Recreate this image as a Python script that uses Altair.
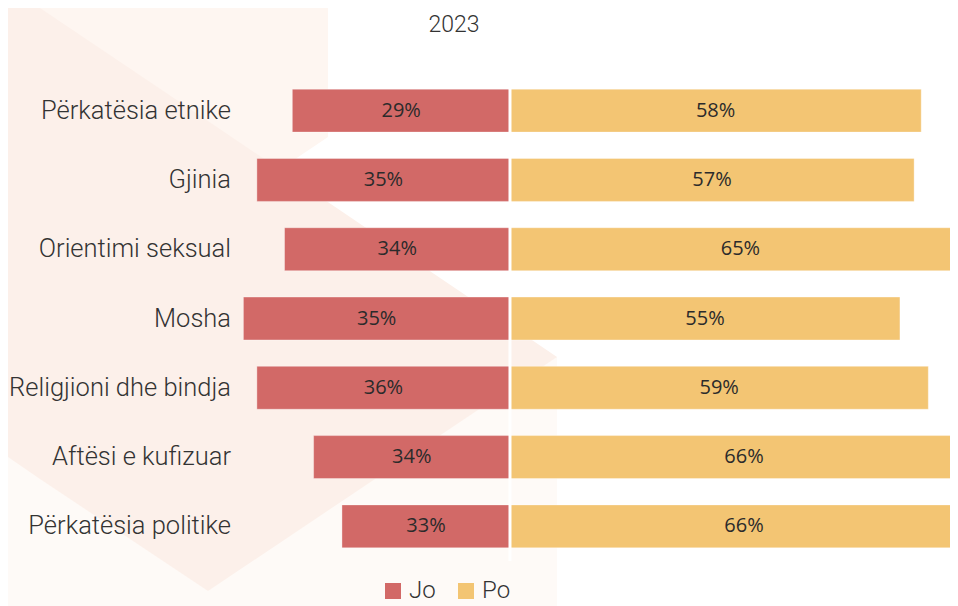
import altair as alt
import pandas as pd

categories = [
    "Përkatësia etnike",
    "Gjinia",
    "Orientimi seksual",
    "Mosha",
    "Religjioni dhe bindja",
    "Aftësi e kufizuar",
    "Përkatësia politike",
]
# bar lengths as drawn (percent units)
jo_values = [30.7, 35.7, 31.8, 37.6, 35.7, 27.7, 23.7]
po_values = [58, 57, 65, 55, 59, 66, 66]
# printed labels
jo_labels = ["29%", "35%", "34%", "35%", "36%", "34%", "33%"]
po_labels = ["58%", "57%", "65%", "55%", "59%", "66%", "66%"]

series = ["Jo", "Po"]
colors = ["#d26967", "#f3c573"]
title_text = "2023"

rows = []
for c, jv, pv, jl, pl in zip(categories, jo_values, po_values, jo_labels, po_labels):
    rows.append({"cat": c, "resp": "Jo", "start": -jv, "end": 0, "mid": -jv / 2, "label": jl})
    rows.append({"cat": c, "resp": "Po", "start": 0, "end": pv, "mid": pv / 2, "label": pl})
df = pd.DataFrame(rows)
cat_df = pd.DataFrame({"cat": categories})

# decorative background shapes (page-pixel space)
deco_poly = ["a_bottom", "a_bottom", "b_corner", "b_corner",
             "c_diamond", "c_diamond", "c_diamond", "c_diamond"]
deco_x = [8, 557, 8, 328, 8, 40, 208, 557]
deco_top = [357, 357, 8, 8, 8, 8, 121, 357]
deco_bottom = [606, 606, 352, 137, 457, 479, 591, 357]
deco_fill = ["#fefaf7", "#fefaf7", "#fef6f1", "#fef6f1",
             "#fcf0ea", "#fcf0ea", "#fcf0ea", "#fcf0ea"]

deco = pd.DataFrame(
    {"poly": deco_poly, "px": deco_x, "top": deco_top, "bottom": deco_bottom, "fill": deco_fill}
)
title_df = pd.DataFrame({"tx": [454], "ty": [25], "t": [title_text]})

PL, PR, PT, PB = 240, 950, 76, 561
X_DOMAIN = [-38.08, 62.06]
W = PR - PL
H = PB - PT
FONT = "Roboto"

x_scale = alt.Scale(domain=X_DOMAIN, nice=False, zero=False)
y_scale = alt.Scale(paddingInner=0.38, paddingOuter=0.19)

base = alt.Chart(df)

bars = base.mark_bar(clip=True, strokeWidth=1, strokeOpacity=0.35, stroke="white").encode(
    x=alt.X("start:Q", scale=x_scale, axis=None),
    x2="end:Q",
    y=alt.Y("cat:N", sort=categories, scale=y_scale, axis=None),
    color=alt.Color(
        "resp:N",
        scale=alt.Scale(domain=series, range=colors),
        legend=alt.Legend(
            title=None,
            orient="none",
            direction="horizontal",
            legendX=141,
            legendY=503,
            symbolType="square",
            symbolSize=256,
            symbolStrokeWidth=0,
            symbolOpacity=1,
            labelFont=FONT,
            labelFontWeight=300,
            labelFontSize=24,
            labelColor="#333333",
            labelOffset=4,
            columnPadding=18,
            padding=0,
        ),
    ),
)

labels = base.mark_text(font="Open Sans", fontSize=20, color="#2b2b2b").encode(
    x=alt.X("mid:Q", scale=x_scale, axis=None),
    y=alt.Y("cat:N", sort=categories, axis=None),
    text="label:N",
)

cat_labels = alt.Chart(cat_df).mark_text(
    font=FONT, fontWeight=300, fontSize=25.5, color="#333333", align="right", baseline="middle", dx=-9
).encode(
    x=alt.value(0),
    y=alt.Y("cat:N", sort=categories, axis=None),
    text="cat:N",
)

center = alt.Chart(pd.DataFrame({"x": [0]})).mark_rule(color="white", strokeWidth=3).encode(
    x=alt.X("x:Q", scale=x_scale, axis=None)
)

px_x = alt.Scale(domain=[PL, PR], nice=False, zero=False)
px_y = alt.Scale(domain=[PT, PB], nice=False, zero=False, reverse=True)

bg = alt.Chart(deco).mark_area(clip=False).encode(
    x=alt.X("px:Q", scale=px_x, axis=None),
    y=alt.Y("top:Q", scale=px_y, axis=None),
    y2="bottom:Q",
    detail="poly:N",
    fill=alt.Fill("fill:N", scale=None, legend=None),
)

title = alt.Chart(title_df).mark_text(
    font=FONT, fontWeight=300, fontSize=23, color="#333333", baseline="middle", align="center"
).encode(
    x=alt.X("tx:Q", scale=px_x, axis=None),
    y=alt.Y("ty:Q", scale=px_y, axis=None),
    text="t:N",
)

back = alt.layer(bg, title)
main = alt.layer(bars, center, labels, cat_labels)

chart = (
    alt.layer(back, main)
    .resolve_scale(x="independent", y="independent")
    .properties(
        width=W,
        height=H,
        background="white",
        autosize=alt.AutoSizeParams(type="none"),
        padding={"left": PL - 8, "top": PT - 8, "right": 0, "bottom": 606 - PB},
    )
    .configure_view(stroke=None, strokeWidth=0)
    .configure_axis(domain=False, grid=False, ticks=False)
)

chart.save("out.html", embed_options={"renderer": "svg", "actions": False})
